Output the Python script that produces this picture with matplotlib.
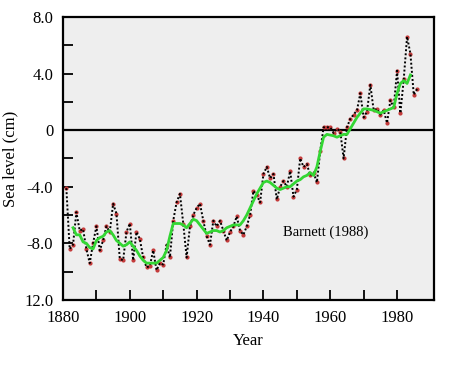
import matplotlib
matplotlib.use("Agg")
import matplotlib.pyplot as plt

# annual sea level (cm)
years = list(range(1881, 1987))
sea_level = [
    -4.1, -8.4, -8.1, -5.8, -7.1, -7.0, -8.4, -9.4, -8.0, -6.8,   # 1881-1890
    -8.5, -7.8, -6.8, -7.2, -5.2, -5.9, -9.1, -9.2, -7.2, -6.6,   # 1891-1900
    -9.2, -7.2, -7.7, -9.0, -9.7, -9.6, -8.5, -9.9, -9.4, -9.5,   # 1901-1910
    -8.1, -9.0, -6.4, -5.1, -4.5, -6.6, -9.0, -6.8, -6.0, -5.5,   # 1911-1920
    -5.2, -6.4, -7.5, -8.1, -6.4, -6.8, -6.4, -7.1, -7.8, -7.2,   # 1921-1930
    -6.8, -6.1, -7.1, -7.4, -6.8, -6.0, -4.3, -4.6, -5.1, -3.1,   # 1931-1940
    -2.6, -3.4, -3.1, -4.9, -4.0, -3.6, -4.0, -2.9, -4.7, -4.2,   # 1941-1950
    -2.0, -2.6, -2.4, -3.2, -3.0, -3.7, -1.5, 0.2, 0.2, 0.2,      # 1951-1960
    -0.2, 0.1, -0.1, -2.0, 0.2, 0.8, 1.1, 1.4, 2.6, 0.9,          # 1961-1970
    1.3, 3.2, 1.4, 1.5, 1.1, 1.4, 0.5, 2.1, 1.6, 4.2,             # 1971-1980
    1.2, 3.6, 6.6, 5.4, 2.5, 2.9,                                 # 1981-1986
]

# smoothed curve (green)
smooth_years = list(range(1883, 1985))
smooth_level = [
    -6.9, -7.4, -7.4, -7.9, -8.0, -8.3, -8.4, -7.8,               # 1883-1890
    -7.6, -7.5, -7.2, -7.1, -7.4, -7.8, -8.0, -8.2, -8.1, -7.9,   # 1891-1900
    -8.2, -8.5, -8.9, -9.2, -9.4, -9.4, -9.4, -9.4, -9.2, -9.0,   # 1901-1910
    -8.5, -7.5, -6.6, -6.6, -6.6, -6.7, -6.9, -6.6, -6.3, -6.4,   # 1911-1920
    -6.7, -7.0, -7.3, -7.2, -7.1, -7.1, -7.2, -7.1, -6.9, -6.8,   # 1921-1930
    -6.7, -6.7, -6.7, -6.4, -6.0, -5.5, -5.0, -4.5, -4.1, -3.7,   # 1931-1940
    -3.6, -3.7, -3.9, -4.1, -4.2, -4.1, -4.0, -4.0, -3.8, -3.6,   # 1941-1950
    -3.5, -3.3, -3.2, -3.0, -3.2, -2.6, -1.5, -0.5, -0.3, -0.35,  # 1951-1960
    -0.4, -0.5, -0.4, -0.3, -0.3, 0.1, 0.5, 0.9, 1.2, 1.5,        # 1961-1970
    1.5, 1.45, 1.4, 1.3, 1.2, 1.3, 1.4, 1.5, 1.6, 2.6,            # 1971-1980
    3.3, 3.5, 3.3, 3.9,                                           # 1981-1984
]

y_ticks = [8, 4, 0, -4, -8, -12]
y_tick_labels = ["8.0", "4.0", "0", "-4.0", "-8.0", "12.0"]
x_ticks = [1880, 1900, 1920, 1940, 1960, 1980]

plt.rcParams["font.family"] = ["Liberation Serif", "DejaVu Serif"]

fig = plt.figure(figsize=(4.5, 3.68), dpi=100)
ax = fig.add_axes([0.14, 0.185, 0.824, 0.769])
ax.set_facecolor("#eeeeee")

ax.axhline(0, color="black", lw=1.6, zorder=1)
ax.plot(years, sea_level, linestyle="none", marker="o", ms=2.0,
        color="#c43a3a", zorder=2)
ax.plot(years, sea_level, linestyle=(0, (1, 1.1)), lw=1.4,
        color="black", zorder=3)
ax.plot(smooth_years, smooth_level, color="#33d633", lw=2.0, zorder=4)

ax.text(1946, -7.2, "Barnett (1988)", fontsize=10.5, va="center")

ax.set_xlim(1880, 1991)
ax.set_ylim(-12, 8)
ax.set_xticks(x_ticks)
ax.set_xticks(range(1890, 1990, 20), minor=True)
ax.set_yticks(y_ticks)
ax.set_yticklabels(y_tick_labels)
ax.set_yticks(range(-10, 8, 4), minor=True)
ax.tick_params(which="both", direction="in", length=7, width=1.3,
               labelsize=12, pad=7, top=False, right=False)
ax.set_xlabel("Year", fontsize=12, labelpad=5)
ax.set_ylabel("Sea level (cm)", fontsize=12, labelpad=4)
for s in ax.spines.values():
    s.set_linewidth(1.6)

fig.savefig("out.png", dpi=100)
